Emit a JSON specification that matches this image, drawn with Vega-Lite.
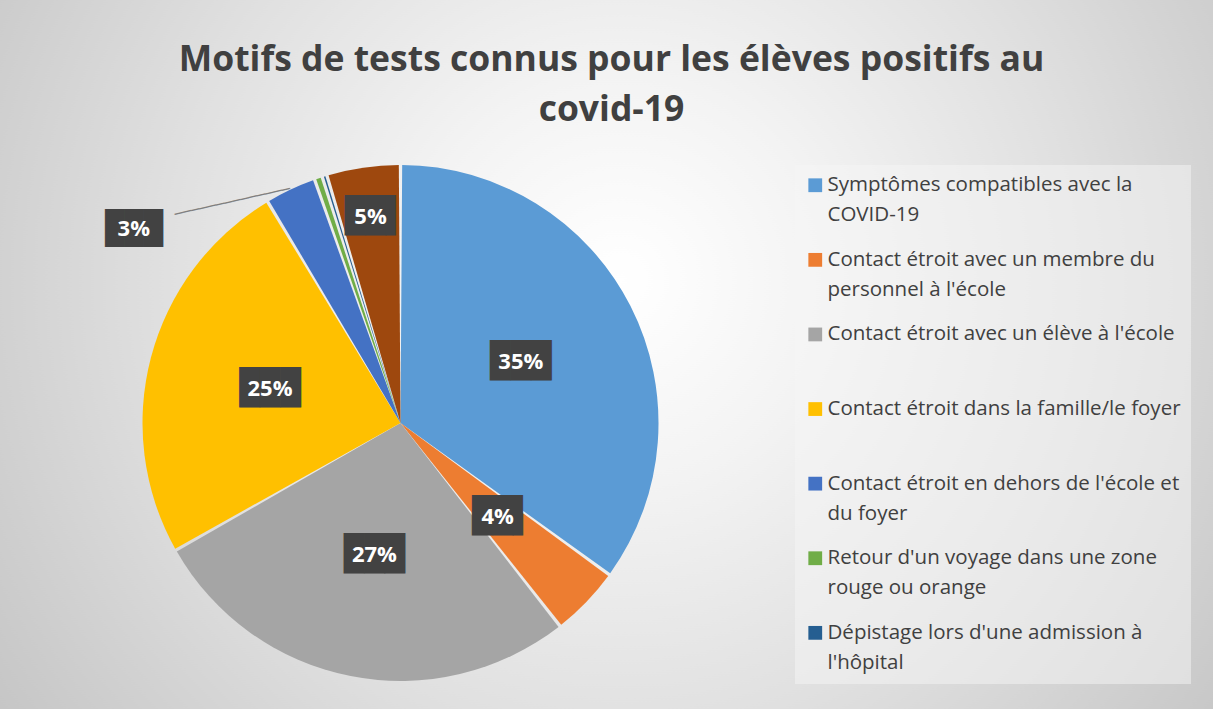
{
  "$schema": "https://vega.github.io/schema/vega-lite/v6.json",
  "width": 785,
  "height": 572,
  "autosize": {"type": "none"},
  "padding": {"left": 8, "top": 137, "right": 420, "bottom": 0},
  "background": "#E2E2E2",
  "title": {
    "text": ["Motifs de tests connus pour les élèves positifs au", "covid-19"],
    "font": "Open Sans",
    "fontSize": 35.5,
    "fontWeight": "bold",
    "color": "#404040",
    "lineHeight": 50,
    "anchor": "middle",
    "frame": "group",
    "dx": 211,
    "offset": -705
  },
  "config": {"view": {"stroke": null}},
  "data": {
    "values": [
      {"cat": "Symptômes compatibles avec la|COVID-19", "value": 35.0, "label": "35%", "ord": 1},
      {"cat": "Contact étroit avec un membre du|personnel à l'école", "value": 4.4, "label": "4%", "ord": 2},
      {"cat": "Contact étroit avec un élève à l'école|", "value": 27.4, "label": "27%", "ord": 3},
      {"cat": "Contact étroit dans la famille/le foyer|", "value": 24.6, "label": "25%", "ord": 4},
      {"cat": "Contact étroit en dehors de l'école et|du foyer", "value": 3.2, "label": "3%", "ord": 5},
      {"cat": "Retour d'un voyage dans une zone|rouge ou orange", "value": 0.5, "label": "", "ord": 6},
      {"cat": "Dépistage lors d'une admission à|l'hôpital", "value": 0.3, "label": "", "ord": 7},
      {"cat": "Autre", "value": 4.6, "label": "5%", "ord": 8}
    ]
  },
  "layer": [
    {
      "data": {"values": [{"bg": "fond"}]},
      "mark": {
        "type": "arc",
        "outerRadius": 1000,
        "theta": 6.2832,
        "fill": {
          "gradient": "radial",
          "x1": 0.61, "y1": 0.4285, "r1": 0,
          "x2": 0.61, "y2": 0.4285, "r2": 0.375,
          "stops": [
            {"offset": 0, "color": "#FFFFFF"},
            {"offset": 0.27, "color": "#F3F3F3"},
            {"offset": 0.6, "color": "#E0E0E0"},
            {"offset": 1, "color": "#C6C6C6"}
          ]
        }
      },
      "encoding": {}
    },
    {
      "encoding": {
        "theta": {"field": "value", "type": "quantitative", "stack": true},
        "order": {"field": "ord", "type": "quantitative"}
      },
      "layer": [
        {
          "mark": {"type": "arc", "outerRadius": 258, "padAngle": 0.013},
          "encoding": {
            "color": {
              "field": "cat",
              "type": "nominal",
              "scale": {
                "domain": [
                  "Symptômes compatibles avec la|COVID-19",
                  "Contact étroit avec un membre du|personnel à l'école",
                  "Contact étroit avec un élève à l'école|",
                  "Contact étroit dans la famille/le foyer|",
                  "Contact étroit en dehors de l'école et|du foyer",
                  "Retour d'un voyage dans une zone|rouge ou orange",
                  "Dépistage lors d'une admission à|l'hôpital",
                  "Autre"
                ],
                "range": ["#5B9BD5", "#ED7D31", "#A5A5A5", "#FFC000", "#4472C4", "#70AD47", "#255E91", "#9E480E"]
              },
              "legend": {
                "orient": "none",
                "legendX": 787,
                "legendY": 28,
                "title": null,
                "values": [
                  "Symptômes compatibles avec la|COVID-19",
                  "Contact étroit avec un membre du|personnel à l'école",
                  "Contact étroit avec un élève à l'école|",
                  "Contact étroit dans la famille/le foyer|",
                  "Contact étroit en dehors de l'école et|du foyer",
                  "Retour d'un voyage dans une zone|rouge ou orange",
                  "Dépistage lors d'une admission à|l'hôpital"
                ],
                "symbolType": "square",
                "symbolSize": 190,
                "symbolStrokeWidth": 0,
                "labelFont": "Open Sans",
                "labelFontSize": 20.5,
                "labelColor": "#404040",
                "labelLimit": 0,
                "labelOffset": 2,
                "labelBaseline": "middle",
                "labelExpr": "split(datum.label, '|')",
                "rowPadding": 23.6,
                "padding": 10,
                "fillColor": "rgba(245,245,245,0.5)",
                "encode": {
                  "labels": {"update": {"lineHeight": {"value": 30}}}
                }
              }
            }
          }
        },
        {
          "mark": {"type": "text", "radius": 135, "font": "DejaVu Sans Mono", "fontSize": 34, "color": "#424242", "baseline": "middle"},
          "encoding": {
            "detail": {"field": "cat"},
            "text": {"condition": {"test": {"field": "label", "oneOf": ["35%", "27%", "25%"]}, "value": "███"}, "value": ""}
          }
        },
        {
          "mark": {"type": "text", "radius": 135, "dx": 5, "font": "DejaVu Sans Mono", "fontSize": 34, "color": "#424242", "baseline": "middle"},
          "encoding": {
            "detail": {"field": "cat"},
            "text": {"condition": {"test": {"field": "label", "equal": "4%"}, "value": "██▌"}, "value": ""}
          }
        },
        {
          "mark": {"type": "text", "radius": 208, "dx": 5, "font": "DejaVu Sans Mono", "fontSize": 34, "color": "#424242", "baseline": "middle"},
          "encoding": {
            "detail": {"field": "cat"},
            "text": {"condition": {"test": {"field": "label", "equal": "5%"}, "value": "██▌"}, "value": ""}
          }
        },
        {
          "mark": {"type": "text", "radius": 300, "dx": -139, "dy": 77, "font": "DejaVu Sans Mono", "fontSize": 32, "color": "#424242", "baseline": "middle"},
          "encoding": {
            "detail": {"field": "cat"},
            "text": {"condition": {"test": {"field": "label", "equal": "3%"}, "value": "███"}, "value": ""}
          }
        },
        {
          "mark": {"type": "text", "radius": 283, "dx": -54, "dy": 24, "angle": 347.4, "font": "DejaVu Sans Mono", "fontSize": 14, "color": "#7F7F7F", "baseline": "middle"},
          "encoding": {
            "detail": {"field": "cat"},
            "text": {"condition": {"test": {"field": "label", "equal": "3%"}, "value": "──────────────"}, "value": ""}
          }
        },
        {
          "mark": {"type": "text", "radius": 135, "font": "Open Sans", "fontSize": 22, "fontWeight": "bold", "color": "#FFFFFF", "baseline": "middle"},
          "encoding": {
            "detail": {"field": "cat"},
            "text": {"condition": {"test": {"field": "label", "oneOf": ["35%", "4%", "27%", "25%"]}, "field": "label"}, "value": ""}
          }
        },
        {
          "mark": {"type": "text", "radius": 208, "font": "Open Sans", "fontSize": 22, "fontWeight": "bold", "color": "#FFFFFF", "baseline": "middle"},
          "encoding": {
            "detail": {"field": "cat"},
            "text": {"condition": {"test": {"field": "label", "equal": "5%"}, "field": "label"}, "value": ""}
          }
        },
        {
          "mark": {"type": "text", "radius": 300, "dx": -139, "dy": 77, "font": "Open Sans", "fontSize": 22, "fontWeight": "bold", "color": "#FFFFFF", "baseline": "middle"},
          "encoding": {
            "detail": {"field": "cat"},
            "text": {"condition": {"test": {"field": "label", "equal": "3%"}, "field": "label"}, "value": ""}
          }
        }
      ]
    }
  ]
}
